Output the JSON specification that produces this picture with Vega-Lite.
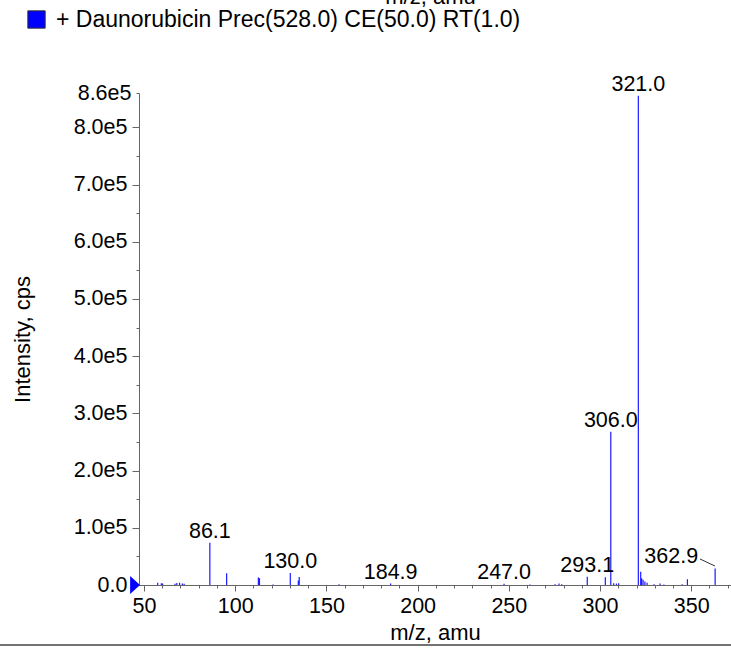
{
  "$schema": "https://vega.github.io/schema/vega-lite/v6.json",
  "width": 592,
  "height": 492,
  "autosize": {"type": "none"},
  "padding": {"left": 139, "top": 93, "right": 0, "bottom": 66},
  "config": {
    "view": {"stroke": null},
    "font": "Liberation Sans",
    "axis": {
      "grid": false,
      "domainColor": "#666666",
      "tickColor": "#666666",
      "labelColor": "#000000",
      "titleColor": "#000000",
      "labelFontSize": 21.5,
      "titleFontSize": 22,
      "titleFontWeight": "normal"
    }
  },
  "datasets": {
    "peaks": [
      {"mz": 57.5, "i": 4000}, {"mz": 59.5, "i": 3000}, {"mz": 60.2, "i": 2500},
      {"mz": 67.0, "i": 2000}, {"mz": 68.0, "i": 3500}, {"mz": 69.5, "i": 4000},
      {"mz": 71.0, "i": 2500}, {"mz": 72.0, "i": 2000},
      {"mz": 86.1, "i": 74000, "label": "86.1"},
      {"mz": 95.3, "i": 20500},
      {"mz": 112.7, "i": 13000}, {"mz": 113.3, "i": 12000},
      {"mz": 120.7, "i": 1000},
      {"mz": 130.2, "i": 21000, "label": "130.0"},
      {"mz": 134.6, "i": 8000}, {"mz": 135.1, "i": 14000},
      {"mz": 156.9, "i": 1500},
      {"mz": 185.2, "i": 2500, "label": "184.9"},
      {"mz": 247.4, "i": 2000, "label": "247.0"},
      {"mz": 261.6, "i": 1000},
      {"mz": 275.3, "i": 1500}, {"mz": 277.5, "i": 2500}, {"mz": 279.0, "i": 1500},
      {"mz": 293.0, "i": 14500, "label": "293.1"},
      {"mz": 302.9, "i": 13500},
      {"mz": 305.9, "i": 268000, "label": "306.0"},
      {"mz": 307.5, "i": 3000}, {"mz": 309.0, "i": 2500}, {"mz": 310.2, "i": 3000},
      {"mz": 321.0, "i": 855000, "label": "321.0"},
      {"mz": 322.3, "i": 23000}, {"mz": 322.8, "i": 12000}, {"mz": 323.6, "i": 9000},
      {"mz": 324.6, "i": 6000}, {"mz": 325.8, "i": 4000},
      {"mz": 329.6, "i": 1500}, {"mz": 332.9, "i": 2500}, {"mz": 335.0, "i": 1000},
      {"mz": 345.0, "i": 1500},
      {"mz": 347.9, "i": 10000},
      {"mz": 363.1, "i": 29000, "label": "362.9"}
    ],
    "marker": [
      {"mz": 45.1, "i": 0, "series": "+ Daunorubicin Prec(528.0) CE(50.0) RT(1.0)"}
    ],
    "leader": [
      {"mz": 354.8, "i": 45500, "mz2": 363.0, "i2": 33200}
    ],
    "frame": [
      {"mz": -30, "mz2": 380, "i": -105000}
    ]
  },
  "resolve": {"axis": {"x": "independent"}},
  "layer": [
    {
      "data": {"name": "peaks"},
      "mark": {"type": "rule", "color": "#1a1aff", "strokeWidth": 1.2},
      "encoding": {
        "x": {
          "field": "mz", "type": "quantitative",
          "scale": {"domain": [47.26, 371.8], "nice": false, "zero": false},
          "axis": {
            "title": "m/z, amu",
            "values": [50, 60, 70, 80, 90, 100, 110, 120, 130, 140, 150, 160, 170, 180, 190, 200, 210, 220, 230, 240, 250, 260, 270, 280, 290, 300, 310, 320, 330, 340, 350, 360, 370],
            "tickCount": 100,
            "labelExpr": "datum.value % 50 == 0 ? datum.value : ''",
            "tickSize": {"condition": {"test": "datum.value % 50 == 0", "value": 6}, "value": 3},
            "labelPadding": 4,
            "labelFlush": false,
            "labelOverlap": false,
            "titleY": 54,
            "titleBaseline": "alphabetic"
          }
        },
        "y": {
          "field": "i", "type": "quantitative",
          "scale": {"domain": [0, 860000], "nice": false},
          "axis": {
            "title": "Intensity, cps",
            "values": [0, 50000, 100000, 150000, 200000, 250000, 300000, 350000, 400000, 450000, 500000, 550000, 600000, 650000, 700000, 750000, 800000, 860000],
            "tickCount": 100,
            "labelExpr": "datum.value == 0 ? '0.0' : ((datum.value % 100000 == 0 || datum.value > 850000) ? format(datum.value / 100000, '.1f') + 'e5' : '')",
            "tickSize": {"condition": {"test": "datum.value % 100000 != 0", "value": 3}, "value": 7},
            "labelPadding": 5,
            "labelFlush": false,
            "labelOverlap": false,
            "titleX": -110,
            "titleBaseline": "alphabetic"
          }
        },
        "y2": {"datum": 0}
      }
    },
    {
      "data": {"name": "peaks"},
      "transform": [{"filter": "datum.label != null && datum.mz < 360"}],
      "mark": {"type": "text", "baseline": "alphabetic", "align": "center", "dy": -5, "fontSize": 21.5, "color": "#000000"},
      "encoding": {
        "x": {"field": "mz", "type": "quantitative", "axis": null},
        "y": {"field": "i", "type": "quantitative"},
        "text": {"field": "label"}
      }
    },
    {
      "data": {"name": "peaks"},
      "transform": [{"filter": "datum.label != null && datum.mz > 360"}],
      "mark": {"type": "text", "baseline": "alphabetic", "align": "right", "dx": -17, "dy": -5, "fontSize": 21.5, "color": "#000000"},
      "encoding": {
        "x": {"field": "mz", "type": "quantitative", "axis": null},
        "y": {"field": "i", "type": "quantitative"},
        "text": {"field": "label"}
      }
    },
    {
      "data": {"name": "leader"},
      "mark": {"type": "rule", "color": "#333333", "strokeWidth": 1},
      "encoding": {
        "x": {"field": "mz", "type": "quantitative", "axis": null},
        "y": {"field": "i", "type": "quantitative"},
        "x2": {"field": "mz2"},
        "y2": {"field": "i2"}
      }
    },
    {
      "data": {"name": "frame"},
      "mark": {"type": "rule", "color": "#444444", "strokeWidth": 1.5, "clip": false},
      "encoding": {
        "x": {"field": "mz", "type": "quantitative", "axis": null},
        "x2": {"field": "mz2"},
        "y": {"field": "i", "type": "quantitative"}
      }
    },
    {
      "data": {"name": "marker"},
      "mark": {"type": "point", "filled": true, "opacity": 1, "clip": false, "shape": "M-0.55,-1L0.55,0L-0.55,1Z", "size": 324},
      "encoding": {
        "x": {
          "field": "mz", "type": "quantitative",
          "axis": {
            "orient": "top", "labels": false, "ticks": false, "domain": false,
            "title": "m/z, amu", "titleY": -90, "titleX": 291, "titleBaseline": "alphabetic"
          }
        },
        "y": {"field": "i", "type": "quantitative"},
        "color": {
          "field": "series", "type": "nominal",
          "scale": {"range": ["#0000ff"]},
          "legend": {
            "title": null,
            "orient": "none",
            "legendX": -114,
            "legendY": -85,
            "padding": 0,
            "symbolType": "square",
            "symbolSize": 300,
            "symbolStrokeColor": "#333333",
            "symbolStrokeWidth": 1,
            "labelFontSize": 23,
            "labelColor": "#000000",
            "labelOffset": 8,
            "labelLimit": 0,
            "encode": {
              "symbols": {"update": {"stroke": {"value": "#333333"}, "strokeWidth": {"value": 1}, "fill": {"value": "#0000ff"}}},
              "labels": {"update": {"dy": {"value": 3}}}
            }
          }
        }
      }
    }
  ]
}
